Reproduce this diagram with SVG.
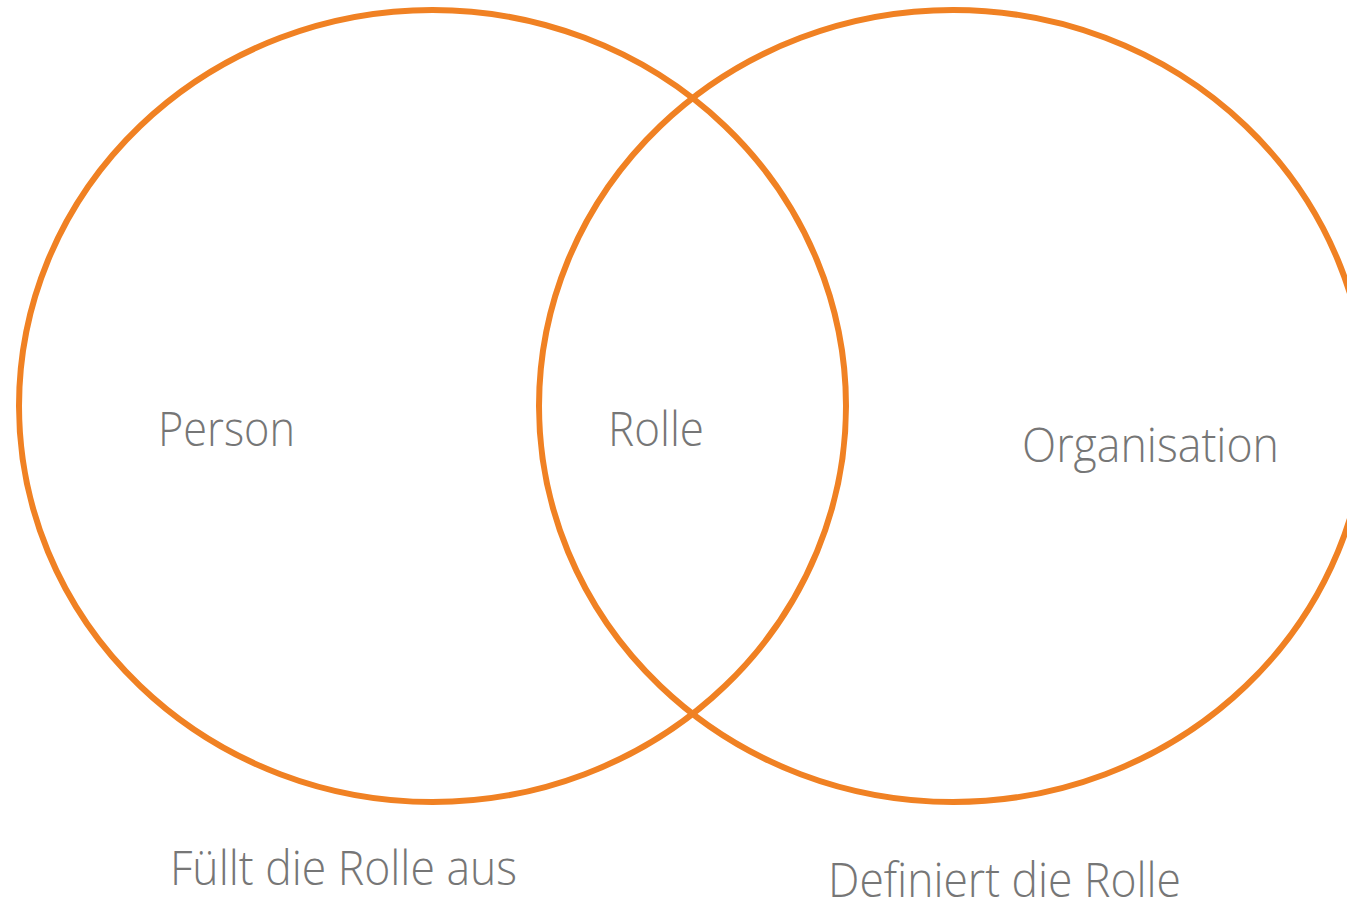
<svg xmlns="http://www.w3.org/2000/svg" width="1347" height="903" viewBox="0 0 1347 903">
<style>
.c{fill:none;stroke:#F08123;stroke-width:6}
.t{font-family:"Open Sans","Liberation Sans",sans-serif;font-weight:300;font-size:47px;fill:#767676}
</style>
<rect width="1347" height="903" fill="#fff"/>
<g id="connectors"/>
<g id="person-circle"><ellipse class="c" cx="432.5" cy="406" rx="413.5" ry="396"/></g>
<g id="organisation-circle"><ellipse class="c" cx="953" cy="406" rx="414" ry="396"/></g>
<g id="person"><text class="t" x="158" y="446" textLength="137" lengthAdjust="spacingAndGlyphs">Person</text></g>
<g id="rolle"><text class="t" x="608" y="446" textLength="96" lengthAdjust="spacingAndGlyphs">Rolle</text></g>
<g id="organisation"><text class="t" x="1022" y="462" textLength="257" lengthAdjust="spacingAndGlyphs">Organisation</text></g>
<g id="fuellt"><text class="t" x="170" y="885" textLength="347" lengthAdjust="spacingAndGlyphs">Füllt die Rolle aus</text></g>
<g id="definiert"><text class="t" x="828" y="897" textLength="353" lengthAdjust="spacingAndGlyphs">Definiert die Rolle</text></g>
</svg>
